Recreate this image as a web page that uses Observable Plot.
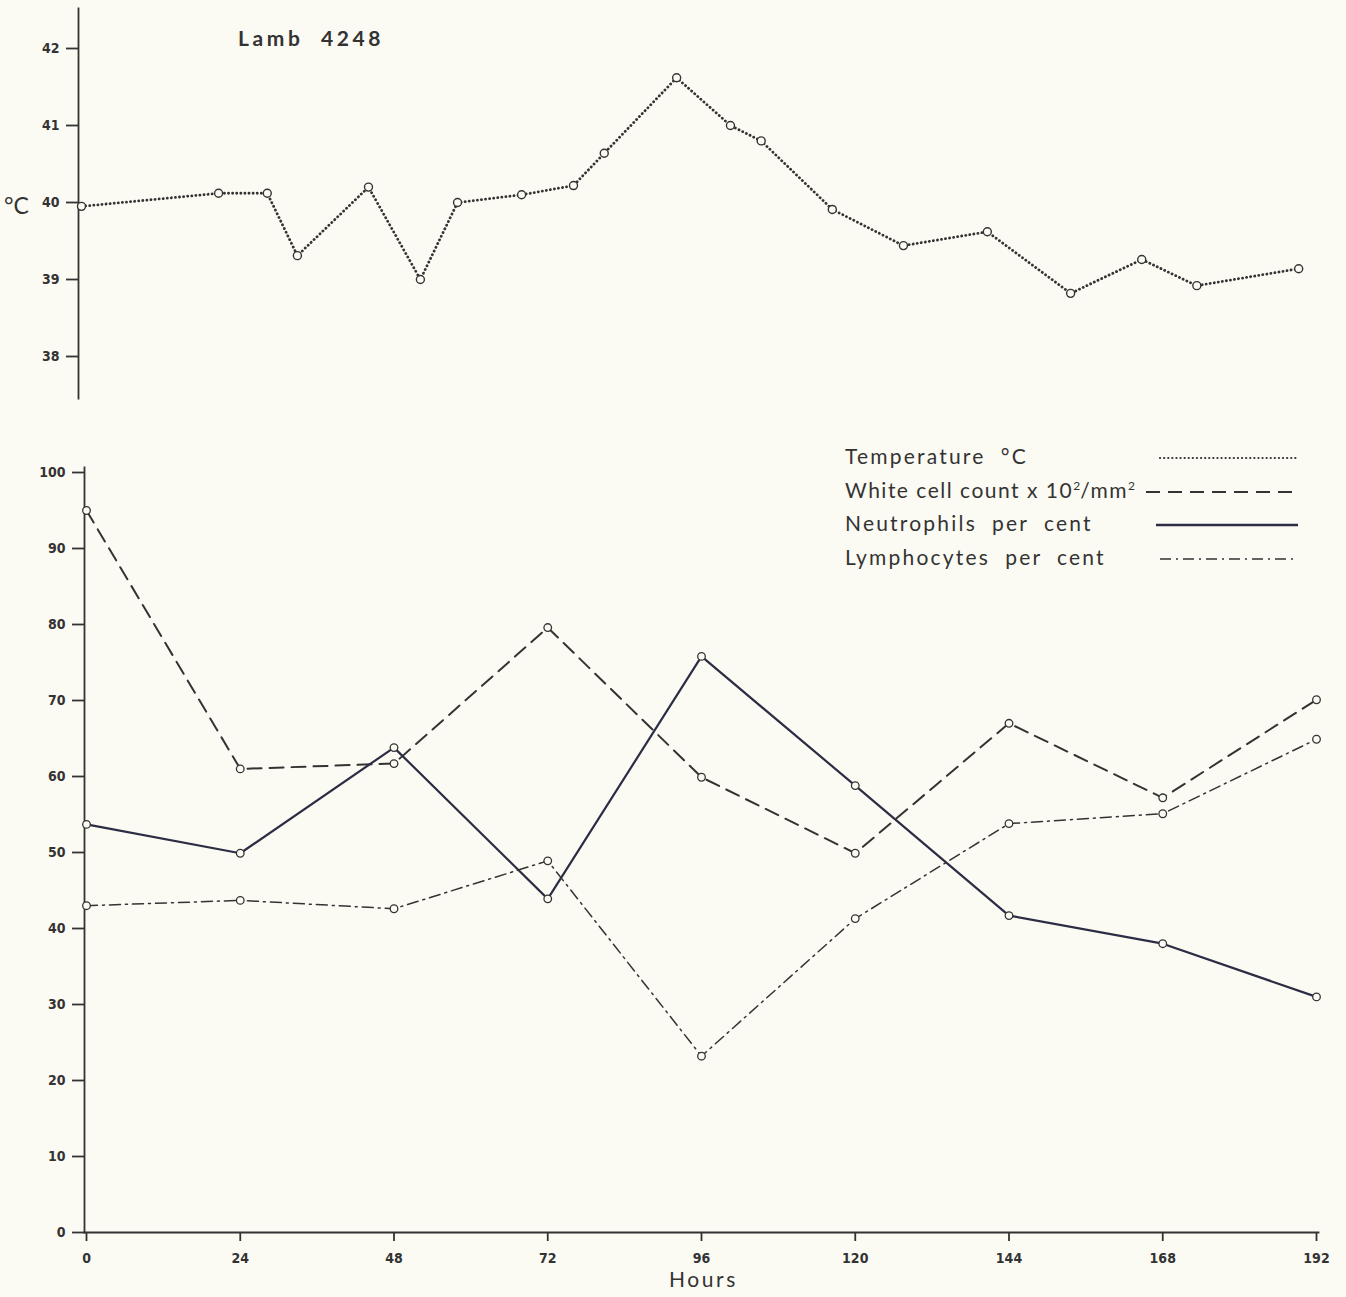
<!DOCTYPE html>
<html>
<head>
<meta charset="utf-8">
<script src="https://cdn.jsdelivr.net/npm/d3@7"></script>
<script src="https://cdn.jsdelivr.net/npm/@observablehq/plot@0.6"></script>
<style>
  html, body { margin: 0; padding: 0; background: #fbfbf4; }
  #wrap { position: relative; width: 1346px; height: 1297px; overflow: hidden; background: #fbfbf4; }
  .abs { position: absolute; }
  .title { font-family: "Lato", "DejaVu Sans", sans-serif; font-weight: 700; font-size: 21px; letter-spacing: 3.6px; color: #333; white-space: nowrap; }
  .leg { font-family: "Lato", "DejaVu Sans", sans-serif; font-size: 21px; letter-spacing: 2.2px; color: #333; white-space: nowrap; }
  .leg sup { font-size: 12px; letter-spacing: 0; }
</style>
</head>
<body>
<div id="wrap"></div>
<script>
// ---- Data ----
const hours = [0, 24, 48, 72, 96, 120, 144, 168, 192];
const whiteCells = [95, 61, 61.7, 79.6, 59.9, 49.9, 67, 57.2, 70.1];
const neutrophils = [53.7, 49.9, 63.8, 43.9, 75.8, 58.8, 41.7, 38, 31];
const lymphocytes = [43, 43.7, 42.6, 48.9, 23.2, 41.3, 53.8, 55.1, 64.9];

const tempHours = [0, 21.4, 29.0, 33.7, 44.8, 52.9, 58.7, 68.7, 76.8, 81.6, 92.9, 101.3, 106.1, 117.2, 128.3, 141.4, 154.4, 165.5, 174.1, 190.0];
const temps = [39.95, 40.12, 40.12, 39.31, 40.2, 39.0, 40.0, 40.1, 40.22, 40.64, 41.62, 41.0, 40.8, 39.91, 39.44, 39.62, 38.82, 39.26, 38.92, 39.14];

const tempTicks = [38, 39, 40, 41, 42];
const pctTicks = [0, 10, 20, 30, 40, 50, 60, 70, 80, 90, 100];
const hourTicks = [0, 24, 48, 72, 96, 120, 144, 168, 192];

const ink = "#333333";
const bg = "#fbfbf4";
const tickFont = { fontFamily: "'DejaVu Sans', sans-serif", fontWeight: 700, fontSize: 14 };
const svgStyle = { background: "transparent", color: ink, fontStretch: "condensed" };

const wrap = document.getElementById("wrap");

// ---- Top panel: temperature ----
const tempData = tempHours.map((h, i) => ({ h, t: temps[i] }));
const topPlot = Plot.plot({
  width: 1346, height: 400,
  marginLeft: 78, marginRight: 30, marginTop: 8, marginBottom: 2,
  style: svgStyle,
  x: { domain: [0, 192], range: [81, 1311], axis: null },
  y: { domain: [38, 42], range: [356, 48], axis: null },
  marks: [
    Plot.frame({ anchor: "left", stroke: ink, strokeWidth: 1.8 }),
    Plot.axisY(tempTicks, { label: null, tickFormat: "d", tickSize: 12, tickPadding: 7, stroke: ink, strokeWidth: 1.8, fill: ink, ...tickFont }),
    Plot.line(tempData, { x: "h", y: "t", stroke: ink, strokeWidth: 2.8, strokeDasharray: "0.1 4", strokeLinecap: "round" }),
    Plot.dot(tempData, { x: "h", y: "t", r: 4, fill: bg, stroke: ink, strokeWidth: 1.4 })
  ]
});
topPlot.classList.add("abs");
topPlot.style.left = "0px"; topPlot.style.top = "0px";
wrap.appendChild(topPlot);

// ---- Bottom panel ----
const rows = hours.map((h, i) => ({ h, w: whiteCells[i], n: neutrophils[i], l: lymphocytes[i] }));
const bottomPlot = Plot.plot({
  width: 1346, height: 897,
  marginLeft: 84, marginRight: 28, marginTop: 67, marginBottom: 65,
  style: svgStyle,
  x: { domain: [0, 192], range: [86, 1316], axis: null },
  y: { domain: [0, 100], range: [832, 72], axis: null },
  marks: [
    Plot.frame({ anchor: "left", stroke: ink, strokeWidth: 1.8 }),
    Plot.frame({ anchor: "bottom", stroke: ink, strokeWidth: 1.8 }),
    Plot.axisY(pctTicks, { label: null, tickFormat: "d", tickSize: 12, tickPadding: 7, stroke: ink, strokeWidth: 1.8, fill: ink, ...tickFont }),
    Plot.axisX(hourTicks, { label: null, tickFormat: "d", tickSize: 9, tickPadding: 12, stroke: ink, strokeWidth: 1.8, fill: ink, ...tickFont }),
    Plot.line(rows, { x: "h", y: "w", stroke: ink, strokeWidth: 2, strokeDasharray: "14 8" }),
    Plot.line(rows, { x: "h", y: "n", stroke: "#2c2c44", strokeWidth: 2.2 }),
    Plot.line(rows, { x: "h", y: "l", stroke: ink, strokeWidth: 1.5, strokeDasharray: "11 5 2 5" }),
    Plot.dot(rows, { x: "h", y: "w", r: 3.8, fill: bg, stroke: ink, strokeWidth: 1.3 }),
    Plot.dot(rows, { x: "h", y: "n", r: 3.8, fill: bg, stroke: ink, strokeWidth: 1.3 }),
    Plot.dot(rows, { x: "h", y: "l", r: 3.8, fill: bg, stroke: ink, strokeWidth: 1.3 })
  ]
});
bottomPlot.classList.add("abs");
bottomPlot.style.left = "0px"; bottomPlot.style.top = "400px";
wrap.appendChild(bottomPlot);

// ---- Texts ----
function addText(html, cls, left, topPx) {
  const d = document.createElement("div");
  d.className = "abs " + cls;
  d.innerHTML = html;
  d.style.left = left + "px"; d.style.top = topPx + "px";
  wrap.appendChild(d);
  return d;
}
addText("Lamb&nbsp; 4248", "title", 238, 25);
const degC = addText("°C", "leg", 4, 191); degC.style.letterSpacing = "0px"; degC.style.fontSize = "23px";
addText("Hours", "leg", 669, 1266).style.letterSpacing = "2.6px";

// ---- Legend ----
const legendItems = [
  { label: "Temperature&nbsp; °C", y: 458, x1: 1160, x2: 1296, dash: "0.1 4", w: 2.2, cap: "round", ls: 2.2 },
  { label: "White cell count x 10<sup>2</sup>/mm<sup>2</sup>", y: 492, x1: 1146, x2: 1294, dash: "14 8", w: 2, cap: "butt", ls: 1.5 },
  { label: "Neutrophils&nbsp; per&nbsp; cent", y: 525, x1: 1156, x2: 1298, dash: "", w: 2.4, cap: "butt", color: "#2c2c44", ls: 2.2 },
  { label: "Lymphocytes&nbsp; per&nbsp; cent", y: 559, x1: 1160, x2: 1294, dash: "11 5 2 5", w: 1.6, cap: "butt", ls: 2.2 }
];
for (const item of legendItems) {
  addText(item.label, "leg", 845, item.y - 15).style.letterSpacing = item.ls + "px";
  const svg = d3.create("svg").attr("width", item.x2 - item.x1 + 4).attr("height", 10)
    .style("position", "absolute").style("left", (item.x1 - 2) + "px").style("top", (item.y - 5) + "px");
  svg.append("line").attr("x1", 2).attr("x2", item.x2 - item.x1 + 2).attr("y1", 5).attr("y2", 5)
    .attr("stroke", item.color || ink).attr("stroke-width", item.w)
    .attr("stroke-dasharray", item.dash || null).attr("stroke-linecap", item.cap);
  wrap.appendChild(svg.node());
}
</script>
</body>
</html>
